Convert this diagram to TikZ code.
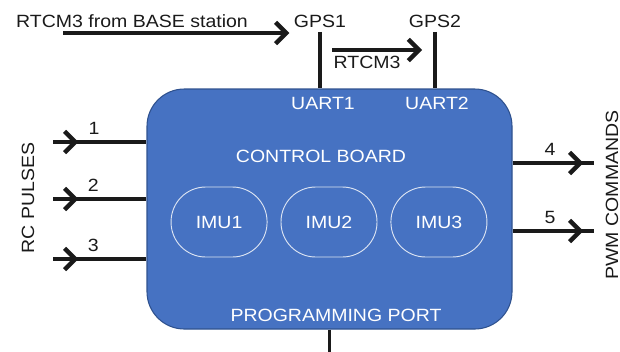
\documentclass[tikz,border=0pt]{standalone}
\usepackage{fontspec}
\setmainfont[FakeStretch=1.1]{Liberation Sans}
\usepackage{tikz}
\usetikzlibrary{arrows.meta,positioning,calc,decorations.markings}
\newcommand{\dfont}{\fontsize{13.3pt}{15.5pt}\selectfont}
\definecolor{boardcol}{HTML}{4672C2}
\definecolor{edgecol}{HTML}{2F528F}
\definecolor{imuedge}{HTML}{DCE4F2}
\definecolor{inkcol}{HTML}{1A1A1A}
\tikzset{
  board/.style={
    rectangle, draw=edgecol, fill=boardcol, line width=0.8pt,
    minimum width=273.75pt, minimum height=180pt,
    rounded corners=28pt,
  },
  imu/.style={
    rectangle, draw=imuedge, fill=boardcol, line width=0.7pt,
    minimum width=72pt, minimum height=52.5pt,
    rounded corners=26pt, text=white, font=\dfont,
  },
  intext/.style={font=\dfont, text=white},
  outtext/.style={font=\dfont, text=inkcol},
  wire/.style={line width=2.5pt, inkcol},
  arr/.style={wire, -{Straight Barb[length=8pt, width=16pt, line width=3.3pt]}},
  midarr/.style={wire, decoration={markings,
      mark=at position #1 with {\arrow{Straight Barb[length=8pt, width=16pt, line width=3.3pt]}}},
    postaction={decorate}},
}

\begin{document}
\begin{tikzpicture}[x=0.75pt, y=-0.75pt]
\useasboundingbox (0,0) rectangle (620,351);

% ===== Control board =====
\node[board] (board) at (329.5,209) {};
\node[intext] (uart1) at (323,103) {UART1};
\node[intext] (uart2) at (437,103) {UART2};
\node[intext] (ctrl) at (321,156) {CONTROL BOARD};
\node[intext] (progport) at (336,315) {PROGRAMMING PORT};

\node[imu] (imu2) at (329,222) {IMU2};
\node[imu, left=9.75pt of imu2] (imu1) {IMU1};
\node[imu, right=9.75pt of imu2] (imu3) {IMU3};

% ===== GPS receivers =====
\node[outtext] (gps1) at (320,21) {GPS1};
\node[outtext] (gps2) at (435,21) {GPS2};
\node[outtext] (basetxt) at (132,21) {RTCM3 from BASE station};
\coordinate (base) at (63,33);

\draw[arr] (base) -- (base -| gps1.west);
\draw[wire] (gps1.south) -- (gps1.south |- board.north);
\draw[wire] (gps2.south) -- (gps2.south |- board.north);
\coordinate (rtcm) at (332,50);
\draw[arr] (rtcm) -- ([xshift=-9.75pt] rtcm -| gps2.south)
  node[pos=0.39, below=0pt, outtext] {RTCM3};

% ===== RC inputs =====
\node[outtext, rotate=90] (rcpulses) at (28,198) {RC PULSES};
\coordinate (rc1) at (53,142);
\coordinate (rc2) at (53,199);
\coordinate (rc3) at (53,259);
\draw[midarr=19pt] (rc1) -- (rc1 -| board.west) node[pos=0.44, above=1pt, outtext] {1};
\draw[midarr=19pt] (rc2) -- (rc2 -| board.west) node[pos=0.43, above=1pt, outtext] {2};
\draw[midarr=19pt] (rc3) -- (rc3 -| board.west) node[pos=0.43, above=1pt, outtext] {3};

% ===== PWM outputs =====
\node[outtext, rotate=90] (pwm) at (612,195) {PWM COMMANDS};
\coordinate (pwm4) at (594,163);
\coordinate (pwm5) at (594,231);
\draw[midarr=-8pt] (pwm4 -| board.east) -- (pwm4) node[pos=0.46, above=1pt, outtext] {4};
\draw[midarr=-8pt] (pwm5 -| board.east) -- (pwm5) node[pos=0.46, above=1pt, outtext] {5};

% ===== Programming port =====
\coordinate (usb) at (329.5,356);
\draw[wire] (board.south) -- (usb);

\end{tikzpicture}
\end{document}
